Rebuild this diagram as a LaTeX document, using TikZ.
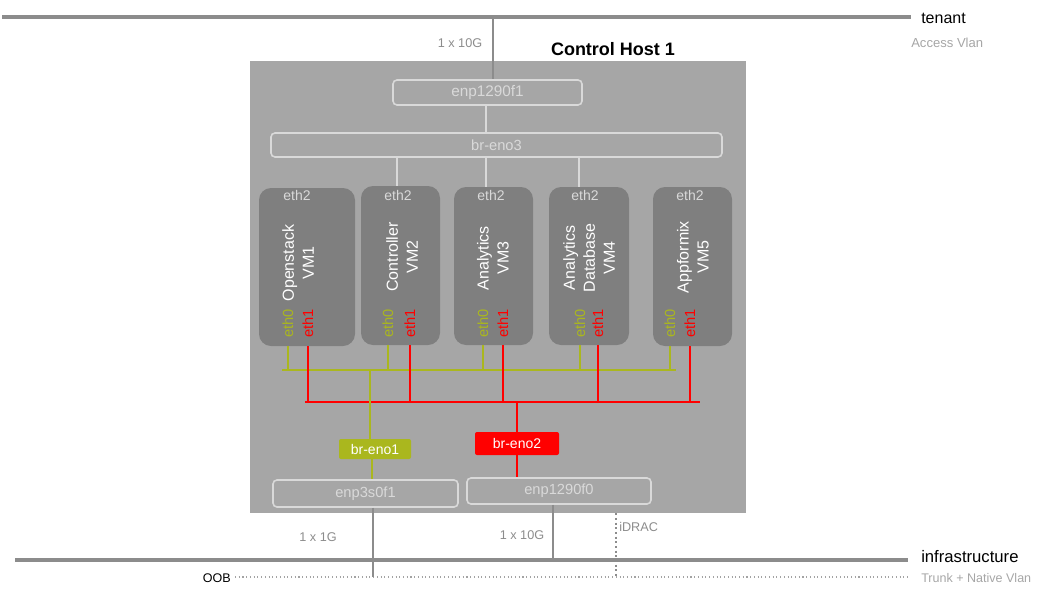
\documentclass[tikz,border=0pt]{standalone}
\usepackage{fontspec}
\setmainfont{Liberation Sans}
\usepackage{tikz}
\definecolor{hostgray}{HTML}{A6A6A6}
\definecolor{vmgray}{HTML}{7F7F7F}
\definecolor{portgray}{HTML}{D9D9D9}
\definecolor{linegray}{HTML}{8C8C8C}
\definecolor{labelgray}{HTML}{8C8C8C}
\definecolor{vlangray}{HTML}{A6A6A6}
\definecolor{oobolive}{HTML}{AAB71E}
\definecolor{infrared}{HTML}{FF0000}
\tikzstyle{host} = [rectangle, fill=hostgray, minimum width=372pt, minimum height=339pt, inner sep=0pt]
\tikzstyle{port} = [rectangle, rounded corners=3pt, draw=portgray, line width=1.2pt, text=portgray, font=\fontsize{11}{13}\selectfont, inner sep=0pt]
\tikzstyle{vm} = [rectangle, rounded corners=9pt, fill=vmgray, inner sep=0pt]
\tikzstyle{vmname} = [rotate=90, align=center, text=white, font=\fontsize{12}{15}\selectfont, inner sep=0pt]
\tikzstyle{ethtop} = [text=portgray, font=\fontsize{10.5}{12}\selectfont, inner sep=0pt]
\tikzstyle{ethlabel} = [rotate=90, anchor=west, font=\fontsize{11}{12}\selectfont, inner sep=0pt]
\tikzstyle{bridge} = [rectangle, rounded corners=1.5pt, text=white, font=\fontsize{10.5}{12}\selectfont, inner sep=0pt]
\tikzstyle{netline} = [line width=3.4pt, linegray]
\tikzstyle{uplink} = [line width=1.5pt, linegray]
\tikzstyle{oobwire} = [line width=1.5pt, oobolive]
\tikzstyle{infrawire} = [line width=1.5pt, infrared]
\tikzstyle{speed} = [text=labelgray, font=\fontsize{9.5}{11}\selectfont, inner sep=0pt]

\begin{document}
\begin{tikzpicture}[x=0.75pt, y=-0.75pt]
\useasboundingbox (0,0) rectangle (1058,593);

% networks
\coordinate (tenantL) at (2,17);
\coordinate (tenantR) at (911,17);
\coordinate (infraL) at (15,560);
\coordinate (infraR) at (908,560);
\coordinate (oobL) at (235,577);
\coordinate (oobR) at (908,577);
\draw [netline] (tenantL) -- (tenantR);
\draw [netline] (infraL) -- (infraR);
\draw [linegray!80, line width=0.8pt, dotted] (oobL) -- (oobR);
\node (tenant) [anchor=west, font=\fontsize{12}{14}\selectfont, inner sep=0pt] at (921,18) {tenant};
\node (access) [anchor=west, text=vlangray, font=\fontsize{9.8}{12}\selectfont, inner sep=0pt] at (911,43) {Access Vlan};
\node (infra) [anchor=west, font=\fontsize{12.5}{14}\selectfont, inner sep=0pt] at (921,557) {infrastructure};
\node (trunk) [anchor=west, text=vlangray, font=\fontsize{9.4}{12}\selectfont, inner sep=0pt] at (921,578) {Trunk + Native Vlan};
\node (oob) [anchor=east, font=\fontsize{9.4}{12}\selectfont, inner sep=0pt] at (231,578) {OOB};

% host
\node (host) [host] at (498,287) {};
\node (title) [font=\bfseries\fontsize{13.5}{15}\selectfont, inner sep=0pt] at (613,49) {Control Host 1};
\node (enp1) [port, minimum width=141.75pt, minimum height=18.75pt, font=\fontsize{11.5}{13}\selectfont] at (487.5,92.5) {enp1290f1};
\node (breno3) [port, minimum width=338.25pt, minimum height=18pt] at (496.5,145) {br-eno3};
\node (speedtop) [speed] at (460,43) {1 x 10G};
\coordinate (uptap) at (493,17);
\draw [uplink] (uptap) -- (enp1.north -| uptap);
\draw [line width=1.2pt, portgray] (enp1.south -| 486,0) -- (breno3.north -| 486,0);

% virtual machines
\node (vm1) [vm, minimum width=72pt, minimum height=118.5pt] at (307,267) {};
\node (vm2) [vm, minimum width=59.25pt, minimum height=119.25pt] at (400.5,265.5) {};
\node (vm3) [vm, minimum width=59.25pt, minimum height=118.5pt] at (493.5,266) {};
\node (vm4) [vm, minimum width=60pt, minimum height=118.5pt] at (589,266) {};
\node (vm5) [vm, minimum width=59.25pt, minimum height=119.25pt] at (692.5,266.5) {};
\draw [line width=1.2pt, portgray] (breno3.south -| 397,0) -- (vm2.north -| 397,0);
\draw [line width=1.2pt, portgray] (breno3.south -| 486,0) -- (vm3.north -| 486,0);
\draw [line width=1.2pt, portgray] (breno3.south -| 579,0) -- (vm4.north -| 579,0);

\node (vm1eth2) [ethtop] at (297,195) {eth2};
\node (vm2eth2) [ethtop] at (398,195) {eth2};
\node (vm3eth2) [ethtop] at (491,195) {eth2};
\node (vm4eth2) [ethtop] at (585,195) {eth2};
\node (vm5eth2) [ethtop] at (690,195) {eth2};

\node (vm1name) [vmname] at (298,263) {Openstack\\VM1};
\node (vm2name) [vmname] at (402,257) {Controller\\VM2};
\node (vm3name) [vmname] at (493,258) {Analytics\\VM3};
\node (vm4name) [vmname] at (589,258) {Analytics\\Database\\VM4};
\node (vm5name) [vmname] at (693,257) {Appformix\\VM5};

\node (vm1eth0) [ethlabel, text=oobolive] at (288,338) {eth0};
\node (vm1eth1) [ethlabel, text=infrared] at (308,338) {eth1};
\node (vm2eth0) [ethlabel, text=oobolive] at (388,338) {eth0};
\node (vm2eth1) [ethlabel, text=infrared] at (410,338) {eth1};
\node (vm3eth0) [ethlabel, text=oobolive] at (483,338) {eth0};
\node (vm3eth1) [ethlabel, text=infrared] at (503,338) {eth1};
\node (vm4eth0) [ethlabel, text=oobolive] at (580,338) {eth0};
\node (vm4eth1) [ethlabel, text=infrared] at (598,338) {eth1};
\node (vm5eth0) [ethlabel, text=oobolive] at (670,338) {eth0};
\node (vm5eth1) [ethlabel, text=infrared] at (690,338) {eth1};

% buses
\coordinate (obusL) at (282,370);
\coordinate (obusR) at (676,370);
\coordinate (rbusL) at (305,402);
\coordinate (rbusR) at (700,402);
\draw [oobwire] (obusL) -- (obusR);
\draw [infrawire] (rbusL) -- (rbusR);
\foreach \v in {1,...,5} {
  \draw [oobwire] (vm\v.south -| vm\v eth0) -- (obusL -| vm\v eth0);
  \draw [infrawire] (vm\v.south -| vm\v eth1) -- (rbusL -| vm\v eth1);
}

% bridges and physical ports
\node (breno1) [bridge, fill=oobolive, minimum width=54pt, minimum height=15pt] at (375,449) {br-eno1};
\node (breno2) [bridge, fill=infrared, minimum width=63pt, minimum height=17.25pt] at (517,443.5) {br-eno2};
\node (enp3) [port, minimum width=138.75pt, minimum height=20.25pt] at (365.5,493.5) {enp3s0f1};
\node (enp0) [port, minimum width=138pt, minimum height=19.5pt] at (559,491) {enp1290f0};
\draw [oobwire] (obusL -| 370,0) -- (breno1.north -| 370,0);
\draw [oobwire] (breno1.south -| 372,0) -- (enp3.north -| 372,0);
\draw [infrawire] (rbusL -| breno2.north) -- (breno2.north);
\draw [infrawire] (breno2.south) -- (enp0.north -| breno2.south);

% uplinks
\draw [uplink] (enp3.south -| 373,0) -- (oobR -| 373,0);
\draw [uplink] (enp0.south -| 553,0) -- (infraR -| 553,0);
\draw [linegray, line width=1.5pt, dotted] (host.south -| 616,0) -- (oobR -| 616,0);
\node (speed1) [speed] at (318,537) {1 x 1G};
\node (speed2) [speed] at (522,535) {1 x 10G};
\node (idrac) [speed, anchor=west] at (619,527) {iDRAC};
\end{tikzpicture}
\end{document}
